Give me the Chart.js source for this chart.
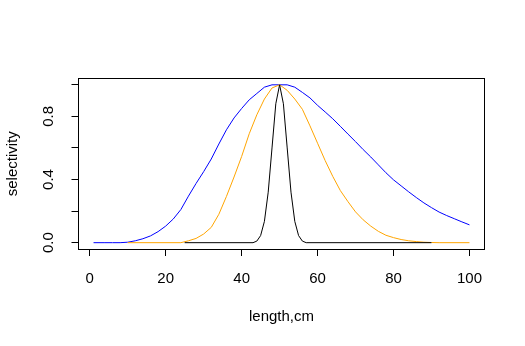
<!DOCTYPE html>
<html>
<head>
  <script src="https://cdn.jsdelivr.net/npm/chart.js@4.4.0/dist/chart.umd.min.js"></script>
  <style>
    body {
      margin: 0;
      background: #fff;
    }
    #wrap {
      width: 525px;
      height: 346px;
    }
  </style>
</head>
<body>
  <div id="wrap"><canvas id="sel" width="525" height="346"></canvas></div>

  <script>
    // selectivity curves
    var blueX = [1, 4, 6, 8, 10, 12, 14, 16, 18, 20, 22, 24, 26, 28, 30, 32, 34, 36, 38, 40,
      42, 44, 46, 48, 50, 52, 54, 56, 58, 60, 62, 64, 66, 68, 70, 72, 74, 76, 78, 80,
      82, 84, 86, 88, 90, 92, 94, 96, 98, 100];
    var blueY = [0, 0, 0, 0, 0.003, 0.012, 0.025, 0.043, 0.07, 0.105, 0.15, 0.21, 0.295, 0.375, 0.45, 0.53, 0.625, 0.715, 0.79, 0.85,
      0.905, 0.945, 0.985, 1, 1, 1, 0.985, 0.952, 0.917, 0.87, 0.828, 0.785, 0.737, 0.688, 0.64, 0.59, 0.543, 0.493, 0.443, 0.398,
      0.36, 0.322, 0.286, 0.252, 0.222, 0.194, 0.172, 0.152, 0.132, 0.113];

    var orangeX = [10, 24, 26, 28, 30, 32, 34, 36, 38, 40, 42, 44, 46, 48, 50, 52, 54, 56, 58, 60,
      62, 64, 66, 68, 70, 72, 74, 76, 78, 80, 82, 84, 86, 88, 90, 92, 100];
    var orangeY = [0, 0, 0.012, 0.027, 0.055, 0.097, 0.18, 0.293, 0.416, 0.546, 0.69, 0.81, 0.91, 0.98, 1, 0.965, 0.91, 0.845, 0.74, 0.63,
      0.52, 0.42, 0.33, 0.26, 0.195, 0.145, 0.105, 0.072, 0.047, 0.032, 0.02, 0.012, 0.007, 0.003, 0.001, 0, 0];

    var blackX = [25, 43, 44, 45, 46, 47, 48, 49, 50, 51, 52, 53, 54, 55, 56, 57, 90];
    var blackY = [0, 0, 0.01, 0.045, 0.135, 0.32, 0.6, 0.88, 1, 0.88, 0.6, 0.32, 0.135, 0.045, 0.01, 0, 0];

    var xTicks = [0, 20, 40, 60, 80, 100];
    var yTicks = [0, 0.2, 0.4, 0.6, 0.8, 1.0];
    var yTickLabels = ['0.0', '', '0.4', '', '0.8', ''];

    function pts(xs, ys) {
      return xs.map(function(x, i) { return {x: x, y: ys[i]}; });
    }

    var font = {family: "'Liberation Sans', Arial, sans-serif", size: 15};

    // R style box round the plot region
    var boxPlugin = {
      id: 'box',
      afterDraw: function(chart) {
        var a = chart.chartArea, ctx = chart.ctx;
        var l = Math.floor(a.left) + 0.5, t = Math.floor(a.top) + 0.5;
        var r = Math.floor(a.right) + 0.5, b = Math.floor(a.bottom) + 0.5;
        ctx.save();
        ctx.strokeStyle = '#000';
        ctx.lineWidth = 1;
        ctx.strokeRect(l, t, r - l, b - t);
        ctx.restore();
      }
    };

    var ctx = document.getElementById('sel').getContext('2d');
    var chart = new Chart(ctx, {
      type: 'line',
      data: {
        datasets: [{
          data: pts(blueX, blueY),
          borderColor: '#0000FF',
          order: 3
        }, {
          data: pts(orangeX, orangeY),
          borderColor: '#FFA500',
          order: 2
        }, {
          data: pts(blackX, blackY),
          borderColor: '#000000',
          order: 1
        }]
      },
      options: {
        responsive: false,
        animation: false,
        events: [],
        layout: {padding: {top: 78.5, right: 40.5, left: 0, bottom: 0}},
        elements: {
          line: {borderWidth: 1, tension: 0, fill: false},
          point: {radius: 0}
        },
        plugins: {legend: {display: false}, tooltip: {enabled: false}},
        scales: {
          x: {
            type: 'linear',
            min: -2.96,
            max: 103.96,
            afterBuildTicks: function(s) { s.ticks = xTicks.map(function(v) { return {value: v}; }); },
            afterFit: function(s) { s.height = 97; },
            border: {display: false},
            grid: {drawOnChartArea: false, drawTicks: true, tickLength: 7, color: '#000'},
            ticks: {color: '#000', font: font, padding: 14, maxRotation: 0, autoSkip: false,
              callback: function(v) { return String(v); }},
            title: {display: true, text: 'length,cm', color: '#000', font: font, padding: {top: 0, bottom: 20}}
          },
          y: {
            type: 'linear',
            min: -0.04,
            max: 1.04,
            afterBuildTicks: function(s) { s.ticks = yTicks.map(function(v) { return {value: v}; }); },
            afterFit: function(s) { s.width = 78.5; },
            border: {display: false},
            grid: {drawOnChartArea: false, drawTicks: true, tickLength: 7, color: '#000'},
            ticks: {color: '#000', font: font, padding: 12, minRotation: 90, maxRotation: 90,
              crossAlign: 'center', autoSkip: false,
              callback: function(v, i) { return yTickLabels[i]; }},
            title: {display: true, text: 'selectivity', color: '#000', font: font, padding: {top: 4, bottom: 0}}
          }
        }
      },
      plugins: [boxPlugin]
    });
  </script>
</body>
</html>
